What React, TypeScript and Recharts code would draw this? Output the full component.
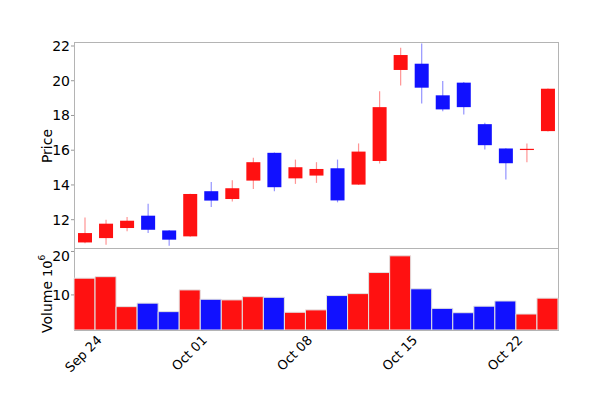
import { ComposedChart, Bar, XAxis, YAxis, Cell } from 'recharts';

// trading days, Sep 21 - Oct 23
const dates = [
  'Sep 21', 'Sep 24', 'Sep 25', 'Sep 26', 'Sep 27', 'Sep 28',
  'Oct 01', 'Oct 02', 'Oct 03', 'Oct 04', 'Oct 05',
  'Oct 08', 'Oct 09', 'Oct 10', 'Oct 11', 'Oct 12',
  'Oct 15', 'Oct 16', 'Oct 17', 'Oct 18', 'Oct 19',
  'Oct 22', 'Oct 23',
];
const opens = [10.69, 10.94, 11.52, 12.23, 11.38, 11.04, 13.64, 13.19, 14.25, 15.85, 14.38, 14.54, 14.96, 14.02, 15.38, 20.62, 20.98, 19.16, 19.89, 17.5, 16.1, 16.05, 17.1];
const highs = [12.13, 12.0, 12.15, 12.92, 11.4, 13.5, 14.17, 14.27, 15.56, 15.87, 15.46, 15.31, 15.46, 16.39, 19.4, 21.9, 22.15, 19.98, 19.92, 17.58, 16.12, 16.39, 19.56];
const lows = [10.65, 10.56, 11.33, 11.23, 10.5, 11.02, 12.73, 13.04, 13.77, 13.64, 14.06, 14.12, 13.0, 14.0, 15.23, 19.73, 18.69, 18.25, 18.06, 16.04, 14.31, 15.31, 17.08];
const closes = [11.23, 11.77, 11.94, 11.42, 10.85, 13.48, 13.1, 13.81, 15.31, 13.87, 15.02, 14.92, 13.11, 15.92, 18.48, 21.48, 19.6, 18.35, 18.48, 16.29, 15.25, 16.08, 19.54];
// volume in millions
const volumes = [13.85, 14.2, 7.3, 8.1, 6.15, 11.15, 9.0, 8.85, 9.6, 9.45, 6.0, 6.55, 9.85, 10.3, 15.15, 19.0, 11.4, 6.9, 5.9, 7.4, 8.6, 5.6, 9.25];

const tickLabels = ['Sep 24', 'Oct 01', 'Oct 08', 'Oct 15', 'Oct 22'];
const priceTicks = [12, 14, 16, 18, 20, 22];
const volumeTicks = [10, 20];

const UP = '#ff1111';
const DOWN = '#1111ff';
const FONT = 'DejaVu Sans';

const rows = dates.map((date, i) => ({
  date,
  open: opens[i],
  high: highs[i],
  low: lows[i],
  close: closes[i],
  volume: volumes[i],
  up: closes[i] >= opens[i],
}));

const Candle = (props: any) => {
  const { x, y, width, height, payload } = props;
  const top = Math.min(y, y + height);
  const h = Math.abs(height);
  const span = payload.high - payload.low || 1;
  const toY = (v: number) => top + ((payload.high - v) / span) * h;
  const color = payload.up ? UP : DOWN;
  const yo = toY(payload.open);
  const yc = toY(payload.close);
  const cx = x + width / 2;
  return (
    <g>
      <line x1={cx} x2={cx} y1={top} y2={top + h} stroke={color} strokeOpacity={0.45} strokeWidth={1.2} />
      <rect x={x} y={Math.min(yo, yc)} width={width} height={Math.max(1.2, Math.abs(yo - yc))} fill={color} />
    </g>
  );
};

const DateTick = (props: any) => {
  const { x, y, payload } = props;
  if (!tickLabels.includes(payload.value)) return <g />;
  const tx = x - 3;
  const ty = y + 11;
  return (
    <text x={tx} y={ty} textAnchor="end" transform={`rotate(-45, ${tx}, ${ty})`}
      fontFamily={FONT} fontSize={13} fill="#000">
      {payload.value}
    </text>
  );
};

const PriceLabel = (props: any) => {
  const { viewBox } = props;
  const cx = viewBox.x + 28;
  const cy = viewBox.y + viewBox.height / 2 + 1;
  return (
    <text x={cx} y={cy} textAnchor="middle" transform={`rotate(-90, ${cx}, ${cy})`}
      fontFamily={FONT} fontSize={14} fill="#000">Price</text>
  );
};

const VolumeLabel = (props: any) => {
  const { viewBox } = props;
  const cx = viewBox.x + 28;
  const cy = viewBox.y + 85;
  return (
    <text x={cx} y={cy} textAnchor="start" transform={`rotate(-90, ${cx}, ${cy})`}
      fontFamily={FONT} fontSize={14} fill="#000">
      Volume
      <tspan dx={4} fontSize={13}>10</tspan>
      <tspan dy={-7} fontSize={9}>6</tspan>
    </text>
  );
};

const frame = { position: 'absolute' as const, border: '1px solid #b4b4b4', boxSizing: 'border-box' as const };

const App = () => {
  return (
    <div style={{ position: 'relative', width: 592, height: 392 }}>
      <div style={{ ...frame, left: 66, top: 34, width: 485, height: 207 }} />
      <div style={{ ...frame, left: 66, top: 240, width: 485, height: 83 }} />
      <div style={{ position: 'absolute', left: 0, top: 0 }}>
        <ComposedChart width={592} height={240} data={rows} margin={{ top: 34, right: 42, bottom: 0, left: 16 }}>
          <XAxis dataKey="date" type="category" hide />
          <YAxis type="number" domain={[10.37, 22.23]} allowDataOverflow ticks={priceTicks} width={50}
            axisLine={false} tickLine={{ stroke: '#999' }} tickSize={3} tickMargin={1}
            tick={{ fill: '#000', fontSize: 14, fontFamily: FONT }}
            label={<PriceLabel />} />
          <Bar dataKey={(d: any) => [d.low, d.high]} barSize={14} shape={<Candle />} isAnimationActive={false} />
        </ComposedChart>
      </div>
      <div style={{ position: 'absolute', left: 0, top: 240 }}>
        <ComposedChart width={592} height={142} data={rows} margin={{ top: 0, right: 42, bottom: 0, left: 16 }}
          barCategoryGap={0}>
          <XAxis dataKey="date" type="category" interval={0} height={60} axisLine={false} tickLine={false}
            tickSize={0} tickMargin={0} tick={<DateTick />} />
          <YAxis type="number" domain={[1.92, 20.8]} allowDataOverflow ticks={volumeTicks} width={50}
            axisLine={false} tickLine={{ stroke: '#999' }} tickSize={3} tickMargin={1}
            tick={{ fill: '#000', fontSize: 14, fontFamily: FONT }}
            label={<VolumeLabel />} />
          <Bar dataKey="volume" stroke="#e2e2e2" strokeWidth={1} isAnimationActive={false}>
            {rows.map((r) => (
              <Cell key={r.date} fill={r.up ? UP : DOWN} />
            ))}
          </Bar>
        </ComposedChart>
      </div>
    </div>
  );
};

export default App;
